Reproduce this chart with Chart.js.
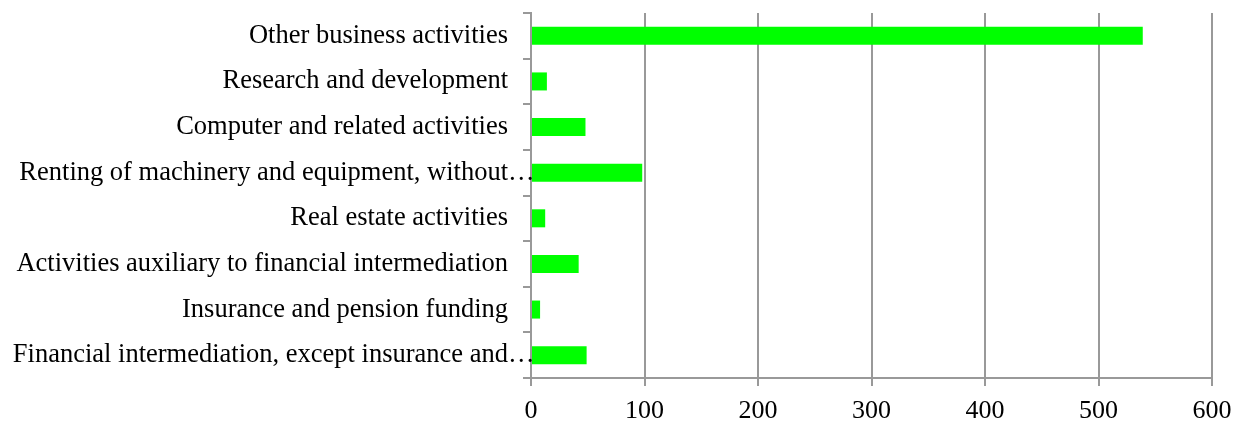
<!DOCTYPE html>
<html>
<head>
<meta charset="utf-8">
<script src="https://cdn.jsdelivr.net/npm/chart.js@4/dist/chart.umd.min.js"></script>
<style>
  html, body { margin: 0; padding: 0; background: #fff; }
  #wrap { width: 1246px; height: 422px; }
</style>
</head>
<body>
<div id="wrap"><canvas id="chartCanvas" width="1246" height="422"></canvas></div>
<script>
    // activity categories, top to bottom
    var categories = [
        "Other business activities",
        "Research and development",
        "Computer and related activities",
        "Renting of machinery and equipment, without\u2026",
        "Real estate activities",
        "Activities auxiliary to financial intermediation",
        "Insurance and pension funding",
        "Financial intermediation, except insurance and\u2026"
    ];
    var values = [539, 14, 48, 98, 12.5, 42, 8, 49];
    var xTicks = [0, 100, 200, 300, 400, 500, 600];

    var gridGray = "#999999";
    var serif = "'Liberation Serif', 'Times New Roman', serif";
    var ELLIPSIS = "\u2026";
    var labelFont = { family: serif, size: 26.5 };
    var yTickLength = 8;
    var yTickPadding = 15;

    // truncated labels: the text is right-aligned and the ellipsis hangs past it
    var hangingEllipsis = {
        id: 'hangingEllipsis',
        afterDraw: function(chart) {
            var scale = chart.scales.y;
            var ctx = chart.ctx;
            ctx.save();
            ctx.font = labelFont.size + "px " + labelFont.family;
            ctx.fillStyle = "#000";
            ctx.textAlign = "left";
            ctx.textBaseline = "middle";
            categories.forEach(function(c, i) {
                if (c.slice(-1) === ELLIPSIS) {
                    ctx.fillText(ELLIPSIS, scale.right - yTickLength - yTickPadding, scale.getPixelForTick(i));
                }
            });
            ctx.restore();
        }
    };

    var chartData = {
        labels: categories,
        datasets: [{
            data: values,
            backgroundColor: "#00FF00",
            borderWidth: 0,
            categoryPercentage: 1.0,
            barPercentage: 0.395
        }]
    };

    var chartOptions = {
        indexAxis: 'y',
        responsive: false,
        animation: false,
        layout: { padding: { top: 13, right: 34, left: 0, bottom: 0 } },
        plugins: {
            legend: { display: false },
            tooltip: { enabled: false }
        },
        scales: {
            x: {
                min: 0,
                max: 600,
                afterBuildTicks: function(axis) {
                    axis.ticks = xTicks.map(function(v) { return { value: v }; });
                },
                afterFit: function(axis) { axis.height = 44; },
                grid: {
                    color: gridGray,
                    lineWidth: 2,
                    tickLength: 8,
                    drawTicks: true
                },
                border: { color: gridGray, width: 2 },
                ticks: {
                    color: "#000",
                    padding: 10,
                    font: { family: serif, size: 26 }
                }
            },
            y: {
                afterFit: function(axis) {
                    axis.width = 531;
                    // labels sit inside their bands, no extra room needed above/below
                    axis.paddingTop = 0;
                    axis.paddingBottom = 0;
                },
                grid: {
                    drawOnChartArea: false,
                    color: gridGray,
                    lineWidth: 2,
                    tickLength: yTickLength,
                    offset: true
                },
                border: { color: gridGray, width: 2 },
                ticks: {
                    color: "#000",
                    padding: yTickPadding,
                    autoSkip: false,
                    font: labelFont,
                    callback: function(value) {
                        var c = categories[value];
                        return c.slice(-1) === ELLIPSIS ? c.slice(0, -1) : c;
                    }
                }
            }
        }
    };

    window.onload = function() {
        var ctx = document.getElementById("chartCanvas").getContext("2d");
        window.myBar = new Chart(ctx, {
            type: 'bar',
            data: chartData,
            options: chartOptions,
            plugins: [hangingEllipsis]
        });
    };
</script>
</body>
</html>
